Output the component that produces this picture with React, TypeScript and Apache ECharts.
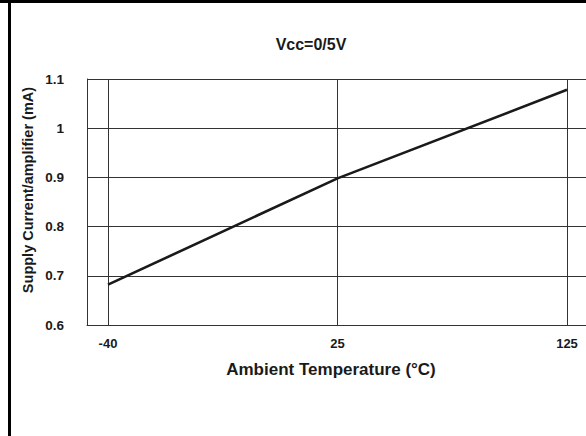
import React, { useEffect, useRef } from "react";
import * as echarts from "echarts";

const temperatures = ["-40", "25", "125"];
const supplyCurrent = [0.682, 0.898, 1.078];
const yMin = 0.6;
const yMax = 1.1;
const yStep = 0.1;

const titleText = "Vcc=0/5V";
const xName = "Ambient Temperature (°C)";
const yName = "Supply Current/amplifier (mA)";

const FONT = "'Liberation Sans', Arial, sans-serif";

export default function App() {
  const ref = useRef<HTMLDivElement>(null);
  useEffect(() => {
    if (!ref.current) return;
    const chart = echarts.init(ref.current, undefined, { renderer: "svg" });
    const gridTop = 79;
    const gridBottom = 111;
    chart.setOption({
      animation: false,
      backgroundColor: "#ffffff",
      grid: [
        { left: 87, right: -2, top: gridTop, bottom: gridBottom },
        { left: 108, right: 19, top: gridTop, bottom: gridBottom },
      ],
      xAxis: [
        {
          gridIndex: 0,
          type: "value",
          min: 0,
          max: 1,
          axisLine: { show: true, lineStyle: { color: "#333", width: 1 } },
          axisTick: { show: false },
          axisLabel: { show: false },
          splitLine: { show: false },
        },
        {
          gridIndex: 1,
          type: "category",
          data: temperatures,
          boundaryGap: false,
          axisLine: { show: false },
          axisTick: { show: false },
          axisLabel: {
            show: true,
            margin: 12,
            color: "#1a1a1a",
            fontFamily: FONT,
            fontWeight: "bold",
            fontSize: 13,
          },
          splitLine: { show: true, lineStyle: { color: "#333", width: 1 } },
        },
      ],
      yAxis: [
        {
          gridIndex: 0,
          type: "value",
          min: yMin,
          max: yMax,
          interval: yStep,
          axisLine: { show: true, lineStyle: { color: "#333", width: 1 } },
          axisTick: { show: false },
          axisLabel: {
            show: true,
            margin: 23,
            color: "#1a1a1a",
            fontFamily: FONT,
            fontWeight: "bold",
            fontSize: 13.5,
          },
          splitLine: { show: true, lineStyle: { color: "#333", width: 1 } },
        },
        {
          gridIndex: 1,
          type: "value",
          min: yMin,
          max: yMax,
          interval: yStep,
          show: false,
          splitLine: { show: false },
        },
      ],
      series: [
        {
          type: "line",
          xAxisIndex: 1,
          yAxisIndex: 1,
          data: supplyCurrent,
          symbol: "none",
          lineStyle: { color: "#1a1a1a", width: 2.6 },
        },
      ],
      graphic: [
        {
          type: "rect",
          shape: { x: 0, y: 0, width: 586, height: 3 },
          style: { fill: "#000" },
          silent: true,
        },
        {
          type: "rect",
          shape: { x: 8, y: 0, width: 3, height: 436 },
          style: { fill: "#000" },
          silent: true,
        },
        {
          type: "text",
          x: 311,
          y: 44,
          style: {
            text: titleText,
            fontFamily: FONT,
            fontWeight: "bold",
            fontSize: 16,
            fill: "#1a1a1a",
            align: "center",
            verticalAlign: "middle",
          },
        },
        {
          type: "text",
          x: 331,
          y: 369,
          style: {
            text: xName,
            fontFamily: FONT,
            fontWeight: "bold",
            fontSize: 17,
            fill: "#1a1a1a",
            align: "center",
            verticalAlign: "middle",
          },
        },
        {
          type: "text",
          x: 28,
          y: 190,
          rotation: Math.PI / 2,
          style: {
            text: yName,
            fontFamily: FONT,
            fontWeight: "bold",
            fontSize: 14.5,
            fill: "#1a1a1a",
            align: "center",
            verticalAlign: "middle",
          },
        },
      ],
    });
    return () => chart.dispose();
  }, []);
  return (
    <div
      ref={ref}
      style={{ position: "fixed", left: 0, top: 0, width: 586, height: 436 }}
    />
  );
}
